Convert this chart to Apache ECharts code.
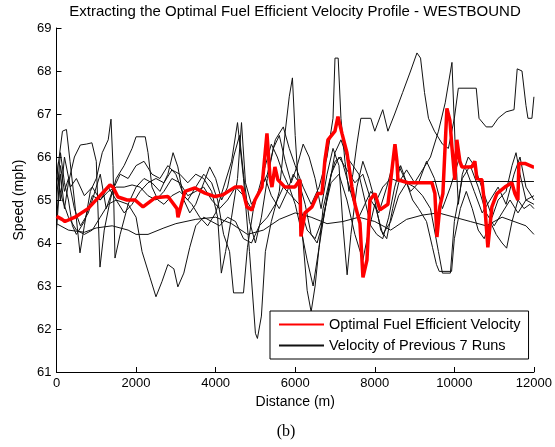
<!DOCTYPE html>
<html><head><meta charset="utf-8">
<script src="https://cdn.jsdelivr.net/npm/echarts@6/dist/echarts.min.js"></script>
<style>html,body{margin:0;padding:0;background:#fff}#c{width:555px;height:447px}</style>
</head><body><div id="c"></div>
<script>
// ---- data (distance m, speed mph) ----
const xTicks = [0, 2000, 4000, 6000, 8000, 10000, 12000];
const yTicks = [61, 62, 63, 64, 65, 66, 67, 68, 69];

const optimal = [[0,64.62],[140,64.55],[214,64.5],[465,64.6],[792,64.8],[1043,65.05],[1344,65.35],[1420,65.3],[1545,65.07],[1772,65.0],[1973,65.0],[2174,64.84],[2475,65.05],[2802,65.08],[3028,64.8],[3053,64.6],[3229,65.2],[3480,65.28],[3732,65.16],[3983,65.08],[4184,65.12],[4485,65.3],[4661,65.3],[4786,64.84],[4913,64.77],[4988,65.0],[5164,65.3],[5290,66.55],[5365,65.55],[5415,65.3],[5490,65.77],[5565,65.47],[5741,65.3],[5993,65.3],[6119,65.47],[6144,64.15],[6245,64.7],[6421,64.84],[6571,65.15],[6672,65.15],[6747,65.93],[6823,66.4],[6999,66.6],[7074,66.94],[7175,66.55],[7300,66.1],[7426,65.3],[7501,64.9],[7627,64.46],[7703,63.2],[7803,63.6],[7878,65.0],[8004,65.15],[8130,64.77],[8331,64.9],[8431,65.7],[8507,66.3],[8557,65.9],[8582,65.47],[8833,65.4],[9436,65.4],[9511,65.15],[9562,64.14],[9637,64.85],[9712,65.15],[9813,67.13],[9888,66.85],[9938,66.24],[10013,65.47],[10063,66.4],[10139,65.9],[10189,65.77],[10440,65.77],[10515,65.9],[10566,65.5],[10692,65.47],[10767,64.84],[10842,63.9],[10943,64.84],[11069,65.15],[11270,65.3],[11446,65.4],[11521,65.15],[11597,65.0],[11622,65.85],[11773,65.85],[11974,65.77],[12000,65.77]];

const run1 = [[0,64.45],[300,64.3],[700,64.25],[1000,64.35],[1400,64.4],[1800,64.3],[2000,64.2],[2300,64.2],[2700,64.35],[3000,64.45],[3500,64.55],[4000,64.6],[4400,64.45],[4800,64.2],[5200,64.3],[5600,64.55],[6000,64.7],[6400,64.6],[6800,64.45],[7200,64.5],[7600,64.6],[8000,64.5],[8400,64.3],[8800,64.55],[9200,64.65],[9600,64.7],[10000,64.6],[10400,64.5],[10800,64.4],[11200,64.6],[11500,64.5],[11800,64.4],[12000,64.2]];

const run2 = [[0,65.6],[150,65.0],[300,64.6],[500,64.3],[700,64.2],[900,64.3],[1100,64.6],[1300,64.9],[1500,65.0],[1800,64.9],[2000,64.6],[2150,63.8],[2350,63.2],[2500,62.75],[2650,63.1],[2800,63.5],[2950,63.4],[3050,62.98],[3200,63.3],[3350,63.9],[3500,64.4],[3700,64.6],[3900,64.5],[4100,64.4],[4300,64.6],[4500,64.5],[4700,64.1],[4900,64.0],[5100,64.4],[5300,64.6],[5500,64.9],[5700,65.3],[5900,65.1],[6100,64.9],[6300,64.3],[6500,64.1],[6700,64.6],[6900,65.4],[7100,65.6],[7300,65.0],[7500,64.2],[7700,63.6],[7850,64.3],[8000,64.9],[8200,64.2],[8400,64.5],[8600,65.1],[8800,65.4],[9000,65.3],[9200,65.1],[9400,64.8],[9600,63.8],[9700,63.3],[9900,63.3],[10000,64.5],[10200,65.5],[10400,65.8],[10600,65.3],[10800,64.7],[11000,64.4],[11200,64.7],[11400,65.0],[11600,64.7],[11800,65.0],[12000,64.9]];

const run3 = [[0,64.5],[100,65.8],[200,65.2],[300,65.5],[450,64.8],[600,64.4],[800,64.7],[1000,65.3],[1100,65.6],[1250,64.8],[1400,65.2],[1600,65.6],[1800,65.5],[2000,65.8],[2200,65.9],[2400,65.6],[2600,65.5],[2800,65.8],[3000,65.6],[3200,65.1],[3400,64.9],[3600,64.6],[3800,64.4],[4000,64.7],[4200,65.3],[4400,65.9],[4550,66.8],[4700,65.5],[4850,63.8],[5000,61.9],[5050,61.78],[5150,62.3],[5250,63.8],[5400,64.5],[5600,65.2],[5750,66.6],[5850,67.4],[5930,67.84],[6000,66.5],[6100,65.0],[6200,64.0],[6300,62.9],[6400,62.4],[6500,63.0],[6600,63.9],[6750,64.8],[6900,65.6],[7100,66.0],[7300,65.7],[7500,65.4],[7700,65.6],[7900,65.0],[8100,64.7],[8300,65.3],[8500,66.0],[8700,65.6],[8900,65.2],[9100,65.4],[9300,65.9],[9500,65.5],[9700,64.8],[9900,65.3],[10100,65.9],[10300,65.7],[10500,65.2],[10700,64.7],[10900,65.0],[11100,65.3],[11300,64.9],[11500,65.6],[11650,66.0],[11800,65.3],[12000,65.0]];

const run4 = [[0,65.9],[100,65.0],[200,66.0],[350,65.3],[500,65.5],[700,65.1],[900,65.3],[1100,65.0],[1300,65.2],[1500,65.3],[1700,65.3],[1900,65.35],[2100,65.3],[2300,65.1],[2500,65.0],[2700,65.2],[2900,65.5],[3100,65.4],[3300,65.1],[3500,65.2],[3700,65.3],[3900,65.0],[4100,64.8],[4300,65.0],[4500,65.3],[4700,65.1],[4900,64.8],[5100,65.2],[5300,65.6],[5500,66.4],[5700,66.7],[5850,66.2],[6000,65.8],[6200,65.3],[6400,64.9],[6600,65.3],[6800,66.0],[6950,66.9],[7000,68.3],[7080,68.3],[7150,66.9],[7250,65.9],[7350,65.2],[7450,65.6],[7550,66.3],[7650,66.9],[7900,66.9],[8000,66.6],[8200,67.1],[8330,66.6],[8500,67.0],[8700,67.5],[8900,68.0],[9060,68.42],[9150,68.3],[9250,67.5],[9350,66.9],[9500,66.6],[9700,66.3],[9850,66.2],[10000,66.9],[10100,67.6],[10550,67.6],[10620,66.9],[10800,66.7],[10950,66.7],[11100,66.9],[11300,67.05],[11500,67.1],[11580,68.05],[11700,68.0],[11800,67.2],[11850,66.9],[11950,66.9],[12000,67.4]];

const run5 = [[0,65.5],[150,66.6],[250,66.64],[340,65.9],[450,65.0],[590,63.77],[700,64.4],[850,65.2],[1000,65.5],[1150,66.1],[1300,66.4],[1370,66.88],[1420,65.8],[1470,63.65],[1600,64.2],[1800,64.9],[2000,65.3],[2200,65.5],[2400,65.4],[2600,65.2],[2800,65.6],[2930,66.1],[3050,65.77],[3200,65.0],[3350,64.7],[3500,64.9],[3700,65.4],[3850,65.77],[4000,65.5],[4150,65.0],[4300,65.3],[4450,66.0],[4600,66.5],[4700,65.6],[4850,64.5],[5000,64.0],[5150,64.6],[5300,65.5],[5450,66.2],[5600,66.5],[5750,65.9],[5900,65.4],[6050,65.8],[6200,66.3],[6350,66.0],[6500,65.5],[6650,64.8],[6800,65.6],[6950,66.2],[7100,65.8],[7200,64.4],[7305,63.26],[7400,64.2],[7550,65.3],[7700,65.9],[7850,65.5],[8000,65.0],[8150,64.3],[8300,64.1],[8450,64.8],[8600,65.4],[8800,65.7],[9000,65.4],[9200,65.7],[9400,66.0],[9600,66.6],[9770,67.26],[9940,68.2],[10015,66.4],[10100,64.9],[10200,65.6],[10350,66.0],[10500,65.8],[10650,65.4],[10800,65.0],[10950,64.6],[11100,65.0],[11300,65.2],[11450,65.8],[11550,66.1],[11650,65.6],[11800,65.0],[12000,65.1]];

const run6 = [[0,64.3],[100,65.6],[200,64.8],[300,65.4],[450,66.0],[600,66.28],[750,66.3],[890,66.33],[1000,65.9],[1093,63.44],[1200,64.3],[1350,65.0],[1500,65.5],[1700,65.8],[1900,66.2],[2000,66.47],[2230,66.47],[2300,66.1],[2400,65.3],[2550,65.0],[2700,64.9],[2900,65.1],[3100,65.2],[3300,65.0],[3500,65.3],[3700,65.6],[3900,65.4],[4050,65.0],[4200,64.2],[4350,63.8],[4450,62.84],[4700,62.84],[4800,63.9],[4950,64.8],[5100,65.3],[5250,65.8],[5400,66.3],[5550,66.0],[5700,65.6],[5850,65.3],[6000,64.9],[6150,64.3],[6300,63.6],[6450,63.0],[6600,63.9],[6700,64.8],[6850,65.4],[7000,65.9],[7150,66.0],[7300,65.5],[7450,65.0],[7600,64.6],[7750,64.9],[7900,65.2],[8050,65.0],[8200,65.3],[8400,65.5],[8600,65.43],[12000,65.43]];

const run7 = [[0,65.0],[100,66.1],[200,65.4],[300,65.0],[400,64.4],[500,64.2],[700,64.5],[900,65.1],[1100,65.0],[1300,65.3],[1500,65.0],[1700,64.7],[1900,64.9],[2100,65.2],[2300,65.4],[2500,65.5],[2700,65.4],[2900,65.7],[3100,65.6],[3300,65.4],[3500,65.6],[3700,65.5],[3900,65.2],[4050,64.6],[4143,63.3],[4250,63.8],[4400,64.6],[4550,65.5],[4650,66.8],[4750,65.4],[4900,64.9],[5100,65.2],[5250,65.5],[5400,65.1],[5600,64.8],[5800,65.2],[5950,65.6],[6100,65.4],[6250,64.9],[6400,64.2],[6550,64.0],[6700,64.5],[6850,65.3],[7000,66.1],[7150,66.4],[7300,66.0],[7450,65.8],[7600,65.6],[7750,65.0],[7900,64.4],[8050,64.2],[8200,64.1],[8350,64.6],[8500,65.3],[8650,65.8],[8800,65.4],[8950,65.0],[9100,64.8],[9300,64.5],[9450,63.9],[9550,63.5],[9620,63.34],[9930,63.34],[10000,64.1],[10150,64.8],[10300,65.2],[10450,64.8],[10600,64.3],[10750,64.1],[10900,64.5],[11050,64.2],[11200,64.0],[11314,63.88],[11450,64.5],[11600,65.0],[11750,64.8],[11900,64.9],[12000,64.8]];

const runs = [run1, run2, run3, run4, run5, run6, run7];
const redName = 'Optimal Fuel Efficient Velocity';
const blackName = 'Velocity of Previous 7 Runs';
const titleText = 'Extracting the Optimal Fuel Efficient Velocity Profile - WESTBOUND';

const FONT = 'Liberation Sans';
const chart = echarts.init(document.getElementById('c'), null, {renderer: 'canvas'});
const series = runs.map(r => ({
  name: blackName, type: 'line', data: r, symbol: 'none', animation: false,
  lineStyle: {color: '#111', width: 1}, itemStyle: {color: '#111'}, z: 2
}));
series.push({
  name: redName, type: 'line', data: optimal, symbol: 'none', animation: false,
  lineStyle: {color: '#ff0000', width: 3.5}, itemStyle: {color: '#ff0000'}, z: 3
});

chart.setOption({
  animation: false,
  backgroundColor: '#fff',
  grid: {left: 56.5, right: 21, top: 28, bottom: 75, containLabel: false},
  xAxis: {
    type: 'value', min: xTicks[0], max: xTicks[xTicks.length - 1], interval: 2000,
    name: 'Distance (m)', nameLocation: 'middle', nameGap: 21,
    nameTextStyle: {fontFamily: FONT, fontSize: 14, color: '#000'},
    axisLine: {show: true, lineStyle: {color: '#000', width: 1}},
    axisTick: {show: true, inside: true, length: 5, lineStyle: {color: '#000'}},
    axisLabel: {fontFamily: FONT, fontSize: 13, color: '#000', margin: 5, formatter: v => String(v)},
    splitLine: {show: false}
  },
  yAxis: {
    type: 'value', min: yTicks[0], max: yTicks[yTicks.length - 1], interval: 1,
    name: 'Speed (mph)', nameLocation: 'middle', nameGap: 30, nameRotate: 90,
    nameTextStyle: {fontFamily: FONT, fontSize: 14, color: '#000'},
    axisLine: {show: true, lineStyle: {color: '#000', width: 1}},
    axisTick: {show: true, inside: true, length: 5, lineStyle: {color: '#000'}},
    axisLabel: {fontFamily: FONT, fontSize: 13, color: '#000', margin: 5, formatter: v => String(v)},
    splitLine: {show: false}
  },
  legend: {
    data: [redName, blackName], orient: 'vertical', left: 270, top: 311,
    itemWidth: 45, itemHeight: 14, itemGap: 6,
    padding: [6, 8, 6, 8],
    backgroundColor: '#fff', borderColor: '#000', borderWidth: 1, borderRadius: 0,
    itemStyle: {opacity: 0},
    textStyle: {fontFamily: FONT, fontSize: 14.5, color: '#000'},
    selectedMode: false
  },
  graphic: [
    {type: 'text', x: 295, y: 12, style: {text: titleText, font: '15px "Liberation Sans"', fill: '#000', textAlign: 'center', textVerticalAlign: 'middle'}},
    {type: 'text', x: 286, y: 432, style: {text: '(b)', font: '16px "Liberation Serif"', fill: '#000', textAlign: 'center', textVerticalAlign: 'middle'}}
  ],
  series: series
});
</script></body></html>
